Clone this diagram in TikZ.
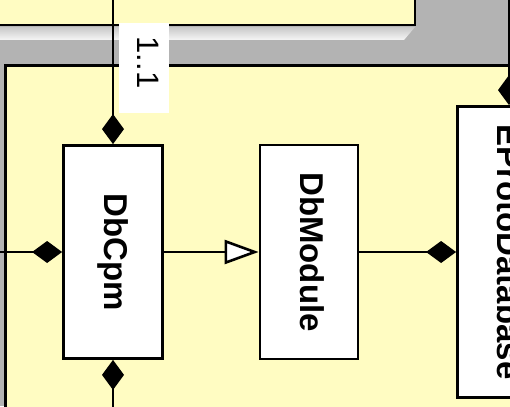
\documentclass[tikz,border=0pt]{standalone}
\usepackage{fontspec}
\setmainfont{Liberation Sans}
\usetikzlibrary{arrows.meta}
\definecolor{panel}{RGB}{255,252,194}
\definecolor{bg}{RGB}{179,179,179}

\begin{document}
\begin{tikzpicture}[x=1pt,y=-1pt,
  box/.style={draw, line width=2.8pt, fill=white, inner sep=0pt,
    font=\fontsize{33}{36}\selectfont\bfseries},
  link/.style={line width=2.2pt},
  comp/.style={-{Diamond[length=30pt,width=22pt]}},
  gen/.style={-{Triangle[open,length=34pt,width=24pt,line width=2.6pt,fill=white]}}]

\useasboundingbox (0,0) rectangle (510,406);
\clip (0,0) rectangle (510,406);

% background, panels
\fill[bg] (0,0) rectangle (510,406);
\draw[line width=2.8pt, fill=panel] (-10,-10) rectangle (415,25);
\shade[top color={rgb,255:red,200;green,200;blue,200},
  bottom color={rgb,255:red,246;green,246;blue,246}]
  (0,27) -- (415,27) -- (404,40) -- (0,40) -- cycle;
\draw[line width=2.8pt, fill=panel] (5.5,65.5) rectangle (600,600);

% classes
\node[box, minimum width=99pt, minimum height=213pt] (cpm) at (113,252) {\rotatebox{-90}{DbCpm}};
\node[box, minimum width=98pt, minimum height=214pt] (mod) at (309,252) {\rotatebox{-90}{\raisebox{3pt}[\height][\depth]{DbModule}}};
\node[box, minimum width=103pt, minimum height=291pt] (proto) at (509,252) {\rotatebox{-90}{EProtoDatabase}};

% free ends
\coordinate (inL) at (-10,252);
\coordinate (topcpm) at (113,-10);
\coordinate (botcpm) at (113,420);
\coordinate (topproto) at (509,-10);

% links
\draw[link, comp] (inL) -- (cpm.west);
\draw[link, gen] (cpm.east) -- (mod.west);
\draw[link, comp] (mod.east) -- (proto.west);
\draw[link, comp] (topcpm) -- (cpm.north);
\draw[link, comp] (botcpm) -- (cpm.south);
\draw[link, comp] (topproto) -- (proto.north);

% multiplicity
\node[fill=white, minimum width=50pt, minimum height=90pt, inner sep=0pt] (lblbg) at (144,68) {};
\node[inner sep=0pt, font=\fontsize{31}{34}\selectfont] (lbl) at (148.5,62.5) {\rotatebox{-90}{1..1}};

\end{tikzpicture}
\end{document}
